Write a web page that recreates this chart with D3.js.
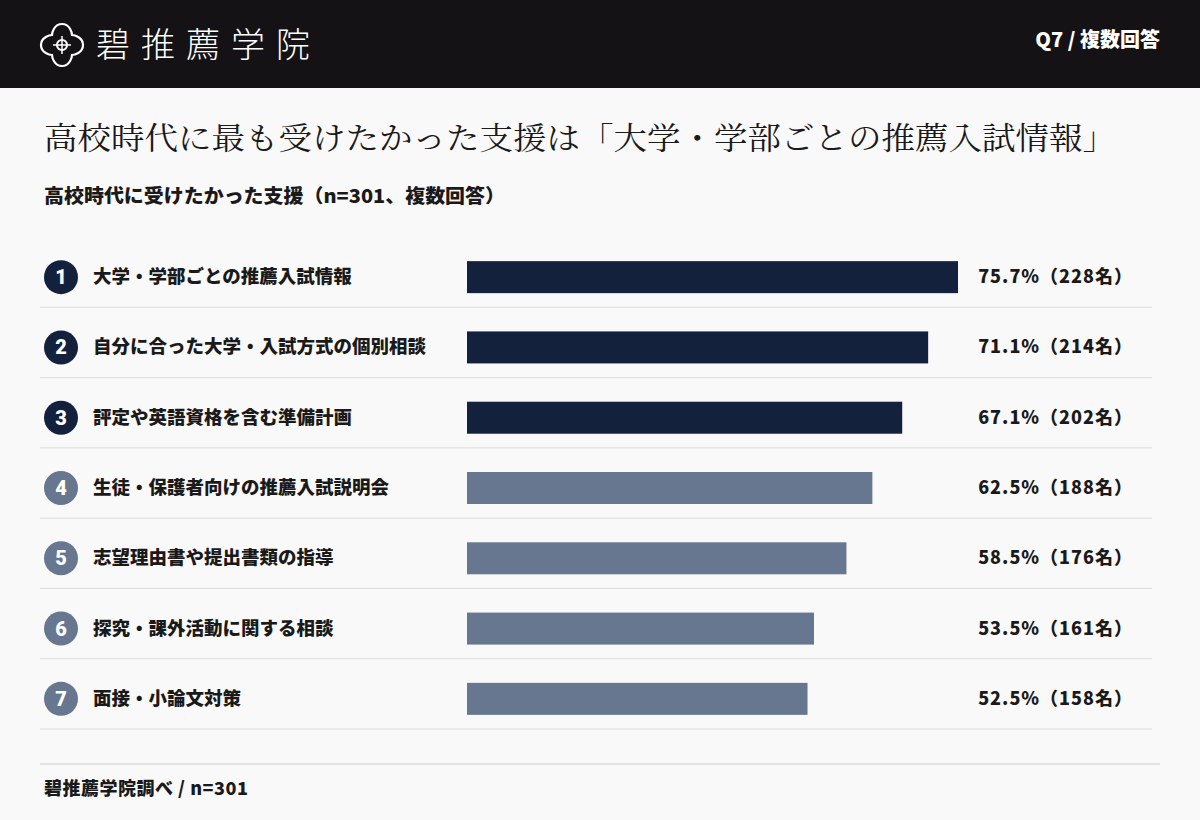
<!DOCTYPE html>
<html><head><meta charset="utf-8">
<script src="https://cdn.jsdelivr.net/npm/d3@7"></script>
<style>body{margin:0;background:#faf9fa;}svg{display:block}</style>
</head><body><svg id="c" width="1200" height="820"></svg>
<script>
const categories=["大学・学部ごとの推薦入試情報","自分に合った大学・入試方式の個別相談","評定や英語資格を含む準備計画","生徒・保護者向けの推薦入試説明会","志望理由書や提出書類の指導","探究・課外活動に関する相談","面接・小論文対策"];
const percents=[75.7,71.1,67.1,62.5,58.5,53.5,52.5];
const counts=[228,214,202,188,176,161,158];
const svg=d3.select("#c");
const jp="'Noto Sans CJK JP','Noto Sans',sans-serif";
svg.append("rect").attr("width",1200).attr("height",820).attr("fill","#faf9fa");
svg.append("rect").attr("width",1200).attr("height",88).attr("fill","#141214");
const g=svg.append("g").attr("transform","translate(62,45)").attr("fill","none").attr("stroke","#fff").attr("stroke-width",2.2);
g.append("path").attr("d","M0,-21 C8,-21 10,-12 10,-10 C12,-10 21,-8 21,0 C21,8 12,10 10,10 C10,12 8,21 0,21 C-8,21 -10,12 -10,10 C-12,10 -21,8 -21,0 C-21,-8 -12,-10 -10,-10 C-10,-12 -8,-21 0,-21Z");
g.append("circle").attr("r",5);
g.append("path").attr("d","M0,-9V9M-9,0H9").attr("stroke-width",1.5);
svg.append("text").attr("x",96).attr("y",57).attr("fill","#fff").attr("font-family",jp).attr("font-weight",300).attr("font-size",34).attr("letter-spacing",11).text("碧推薦学院");
svg.append("text").attr("x",1160).attr("y",47).attr("text-anchor","end").attr("fill","#fff").attr("font-family",jp).attr("font-weight",900).attr("font-size",20).text("Q7 / 複数回答");
svg.append("text").attr("x",44).attr("y",149).attr("fill","#1a1a1a").attr("font-family","'Noto Serif CJK JP','Noto Sans CJK JP',serif").attr("font-size",31).attr("textLength",1072).attr("lengthAdjust","spacingAndGlyphs").text("高校時代に最も受けたかった支援は「大学・学部ごとの推薦入試情報」");
svg.append("text").attr("x",44).attr("y",203).attr("fill","#1a1a1a").attr("font-family",jp).attr("font-weight",900).attr("font-size",19).attr("textLength",461).attr("lengthAdjust","spacingAndGlyphs").text("高校時代に受けたかった支援（n=301、複数回答）");
const x=d3.scaleLinear().domain([0,100]).range([467,1115.6]);
const y=d3.scaleBand().domain(d3.range(categories.length)).range([242,734]);
const rows=svg.selectAll("g.r").data(categories).join("g").attr("transform",(d,i)=>`translate(0,${y(i)})`);
const bh=y.bandwidth();
rows.append("line").attr("x1",40).attr("x2",1152).attr("y1",bh-5).attr("y2",bh-5).attr("stroke","#dddcdd");
rows.append("circle").attr("cx",61).attr("cy",bh/2).attr("r",17).attr("fill",(d,i)=>i<3?"#13213d":"#66778f");
rows.append("text").attr("x",61).attr("y",bh/2+7).attr("text-anchor","middle").attr("fill","#fff").attr("font-family","Roboto,sans-serif").attr("font-weight",900).attr("font-size",20).text((d,i)=>i+1);
rows.append("text").attr("x",93).attr("y",bh/2+6).attr("fill","#1a1a1a").attr("font-family",jp).attr("font-weight",900).attr("font-size",18.5).text(d=>d);
rows.append("text").attr("x",1133).attr("y",bh/2+6).attr("text-anchor","end").attr("fill","#1a1a1a").attr("font-family",jp).attr("font-weight",900).attr("font-size",18).attr("letter-spacing",1).text((d,i)=>`${percents[i].toFixed(1)}%（${counts[i]}名）`);
rows.append("rect").attr("x",x(0)).attr("y",bh/2-16).attr("height",32).attr("width",(d,i)=>x(percents[i])-x(0)).attr("fill",(d,i)=>i<3?"#13213d":"#66778f");
svg.append("line").attr("x1",40).attr("x2",1160).attr("y1",764).attr("y2",764).attr("stroke","#cfcdcf");
svg.append("text").attr("x",44).attr("y",795).attr("fill","#1a1a1a").attr("font-family",jp).attr("font-weight",900).attr("font-size",18).attr("letter-spacing",0.5).text("碧推薦学院調べ / n=301");
</script></body></html>
